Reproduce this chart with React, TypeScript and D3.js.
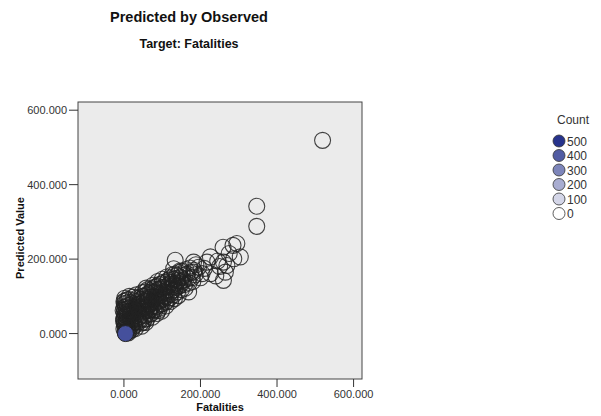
import React from "react";
import * as d3 from "d3";

// observed vs predicted pairs, count 1 each (outlined circles)
const points: [number, number][] = [
  [2, 95], [3, 88], [1, 80], [4, 72], [2, 65], [5, 58], [3, 50], [1, 44], [6, 38], [2, 30],
  [4, 24], [3, 18], [7, 12], [5, 6], [8, 90], [6, 82], [9, 75], [7, 66], [10, 60], [8, 52],
  [9, 45], [10, 35], [6, 28], [8, 20], [10, 14], [9, 8], [11, 2],
  [0, 86], [0, 70], [1, 56], [0, 40], [1, 26], [0, 12], [-2, 62], [-1, 34], [3, 4], [12, 6],
  [12, 92], [14, 84], [15, 76], [13, 68], [16, 60], [18, 54], [15, 46], [17, 40], [20, 32],
  [19, 24], [22, 16], [21, 10], [24, 98], [25, 88], [23, 80], [26, 72], [28, 64], [27, 56],
  [29, 48], [30, 40], [26, 30], [28, 22], [30, 14],
  [14, 100], [18, 72], [20, 62], [22, 50], [24, 42], [16, 30], [18, 18], [34, 74], [36, 58],
  [38, 42], [40, 32], [42, 80], [44, 66], [46, 52], [48, 40], [50, 30], [52, 100], [54, 88],
  [56, 72], [58, 62], [62, 92], [64, 76], [66, 64], [68, 52], [70, 112], [72, 98], [74, 86],
  [76, 74], [78, 64], [80, 124], [82, 112], [84, 98], [86, 86], [88, 74], [90, 62], [92, 132],
  [94, 120], [96, 104], [98, 92], [100, 80], [104, 138], [106, 124], [108, 110], [110, 98],
  [112, 86], [116, 144], [118, 132], [120, 118], [122, 106], [126, 158], [128, 146], [130, 132],
  [132, 118], [138, 156], [140, 142], [142, 128], [146, 168], [150, 150], [152, 136],
  [32, 104], [35, 96], [34, 86], [36, 78], [38, 70], [33, 62], [40, 54], [42, 46], [39, 36],
  [44, 28], [46, 20], [48, 110], [47, 100], [45, 92], [50, 84], [52, 76], [49, 66], [54, 58],
  [55, 48], [53, 38], [57, 30], [58, 122], [56, 112], [60, 104], [59, 94], [60, 86], [60, 68],
  [58, 50], [60, 40],
  [62, 118], [64, 108], [66, 98], [63, 88], [68, 80], [70, 72], [67, 62], [72, 54], [74, 44],
  [76, 130], [75, 120], [78, 110], [80, 100], [77, 90], [82, 82], [84, 72], [81, 62], [86, 54],
  [88, 140], [87, 128], [90, 118], [92, 108], [89, 96], [94, 88], [96, 78], [93, 68], [98, 60],
  [100, 146], [99, 134],
  [102, 124], [104, 112], [106, 102], [103, 92], [108, 84], [110, 74], [112, 152], [114, 140],
  [116, 128], [113, 118], [118, 106], [120, 96], [122, 86], [124, 150], [126, 138], [128, 126],
  [125, 114], [130, 104], [132, 94], [134, 160], [136, 148], [138, 136], [135, 124], [140, 112],
  [142, 102], [144, 164], [146, 152], [148, 140], [145, 128], [150, 118],
  [152, 168], [154, 156], [156, 144], [158, 132], [160, 122], [162, 172], [165, 160], [168, 148],
  [170, 136], [172, 176], [175, 164], [178, 150], [180, 140], [183, 170], [186, 158], [188, 185],
  [169, 112], [134, 197], [130, 174], [182, 192], [182, 165], [204, 161], [226, 161], [217, 192],
  [226, 206], [260, 192], [269, 183], [265, 165], [260, 143], [287, 201], [259, 232], [304, 206],
  [285, 237], [295, 242], [347, 288], [347, 342], [519, 519], [195, 178], [210, 175], [245, 195],
  [250, 180], [275, 215], [240, 155], [200, 150],
];

// the one heavily stacked point near the origin
const heavyObserved = [4];
const heavyPredicted = [0];
const heavyCount = [430];

const xTicks = [0, 200, 400, 600];
const yTicks = [0, 200, 400, 600];
const legendCounts = [500, 400, 300, 200, 100, 0];

const font = "Arial, 'Liberation Sans', sans-serif";

export default function App() {
  const x = d3.scaleLinear().domain([-120, 622]).range([78, 362]);
  const y = d3.scaleLinear().domain([-122, 622]).range([379, 102]);
  const color = d3.scaleLinear<string>().domain([0, 500]).range(["#ffffff", "#27338c"]);
  const fmt = d3.format(".3f");

  return (
    <svg width={601} height={416} style={{ position: "absolute", left: 0, top: 0, background: "#fff" }}>
      <text x={189} y={22} textAnchor="middle" fontFamily={font} fontWeight="bold" fontSize={14.5} fill="#111">
        Predicted by Observed
      </text>
      <text x={189} y={48} textAnchor="middle" fontFamily={font} fontWeight="bold" fontSize={12.5} fill="#111">
        Target: Fatalities
      </text>

      <rect x={78} y={102} width={284} height={277} fill="#ebebeb" stroke="#444" strokeWidth={1} />

      {/* y axis */}
      {yTicks.map((t) => (
        <g key={"y" + t}>
          <line x1={69} x2={78} y1={y(t)} y2={y(t)} stroke="#333" />
          <text x={67} y={y(t) + 4} textAnchor="end" fontFamily={font} fontSize={11} fill="#333">
            {fmt(t)}
          </text>
        </g>
      ))}
      {/* x axis */}
      {xTicks.map((t) => (
        <g key={"x" + t}>
          <line x1={x(t)} x2={x(t)} y1={379} y2={387} stroke="#333" />
          <text x={x(t)} y={398} textAnchor="middle" fontFamily={font} fontSize={11} fill="#333">
            {fmt(t)}
          </text>
        </g>
      ))}
      <text x={220} y={411} textAnchor="middle" fontFamily={font} fontWeight="bold" fontSize={11} fill="#111">
        Fatalities
      </text>
      <text transform="translate(24,238) rotate(-90)" textAnchor="middle" fontFamily={font} fontWeight="bold" fontSize={11} fill="#111">
        Predicted Value
      </text>

      {points.map(([o, p], i) => (
        <circle key={i} cx={x(o)} cy={y(p)} r={8} fill="none" stroke="#222" strokeOpacity={0.85} strokeWidth={1.1} />
      ))}
      {heavyObserved.map((o, i) => (
        <circle key={"h" + i} cx={x(o)} cy={y(heavyPredicted[i])} r={8} fill={color(heavyCount[i])} stroke="#222" strokeWidth={1} />
      ))}

      {/* legend */}
      <text x={573} y={124} textAnchor="middle" fontFamily={font} fontSize={12} fill="#333">
        Count
      </text>
      {legendCounts.map((c, i) => (
        <g key={"l" + c}>
          <circle cx={559} cy={141 + i * 14.5} r={6} fill={color(c)} stroke="#333" strokeWidth={0.8} />
          <text x={567} y={145.5 + i * 14.5} fontFamily={font} fontSize={12} fill="#333">
            {c}
          </text>
        </g>
      ))}
    </svg>
  );
}
